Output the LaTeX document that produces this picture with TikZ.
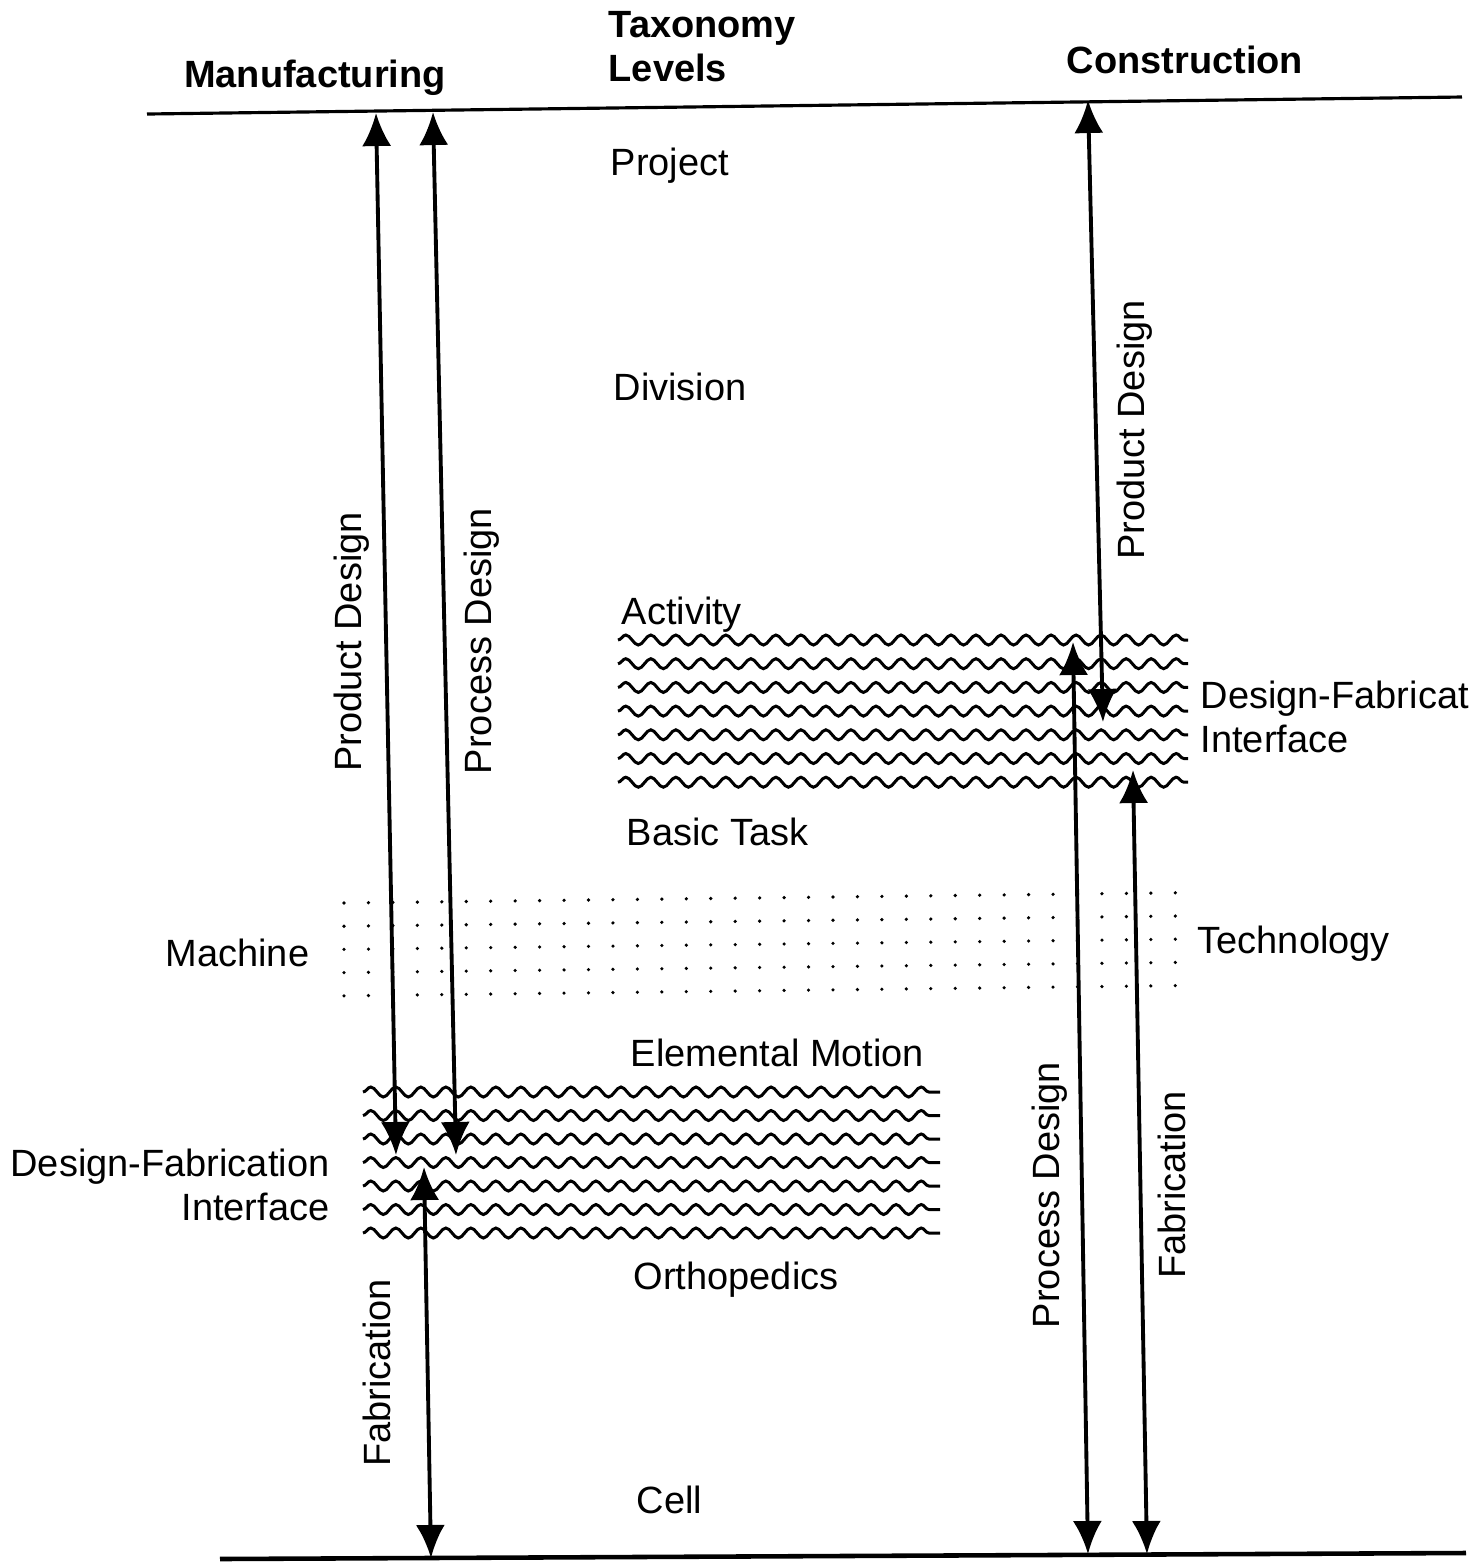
\documentclass[tikz,border=0pt]{standalone}
\usepackage{fontspec}
\setsansfont{Liberation Sans}
\usetikzlibrary{arrows.meta,positioning,decorations.pathmorphing}
\tikzset{
  font=\sffamily\fontsize{10.8}{12.5}\selectfont,
  head/.style={font=\sffamily\bfseries\fontsize{10.8}{12.5}\selectfont, inner sep=0pt},
  lvl/.style={anchor=base west, inner sep=0pt},
  vlbl/.style={rotate=90, inner sep=0pt},
  flow/.style={{Latex[length=3.3mm,width=2.9mm]}-{Latex[length=3.3mm,width=2.9mm]}, line width=1.1pt},
  rule/.style={line width=0.9pt},
  wave/.style={decorate, decoration={snake, segment length=2.5mm, amplitude=0.5mm}, line width=0.85pt},
}

\begin{document}
\begin{tikzpicture}[x=0.01cm, y=-0.01cm]
\useasboundingbox (0,0) rectangle (1483,1562);
% headings and rules
\node[head, anchor=base] (man) at (315,87) {Manufacturing};
\node[head, anchor=north west, align=left] (tax) at (608,11) {Taxonomy\\Levels};
\node[head, anchor=base] (con) at (1185,73) {Construction};
\coordinate (topL) at (147,114); \coordinate (topR) at (1462,97);
\coordinate (botL) at (220,1559); \coordinate (botR) at (1466,1553);
\draw[rule] (topL) -- (topR);
\draw[rule, line width=1.3pt] (botL) -- (botR);

% taxonomy levels
\node[lvl] (project) at (610,175) {Project};
\node[lvl] (division) at (613,400) {Division};
\node[lvl] (activity) at (621,624) {Activity};
\node[lvl] (basic) at (626,845) {Basic Task};
\node[lvl] (elem) at (630,1066) {Elemental Motion};
\node[lvl] (ortho) at (633,1289) {Orthopedics};
\node[lvl] (cell) at (636,1513) {Cell};

% technology band
\foreach \i in {0,...,34}
  \foreach \j in {0,...,4}
    \fill ({344+24.45*\i},{903+23.2*\j-0.3*\i}) circle (0.18mm);
\node[lvl] (machine) at (165,966) {Machine};
\node[lvl] (techno) at (1197,953) {Technology};

% design-fabrication interfaces
\foreach \j in {0,...,6} {
  \draw[wave] (618,{640+23.7*\j}) -- (1188,{640+23.7*\j});
  \draw[wave] (363,{1092+23.5*\j}) -- (940,{1092+23.5*\j});
}
\node[anchor=north east, align=right, inner sep=0pt] (dfiL) at (330,1148) {Design-Fabrication\\Interface};
\node[anchor=north west, align=left, inner sep=0pt] (dfiR) at (1200,680) {Design-Fabricat\\Interface};

% manufacturing arrows
\coordinate (mpdT) at (376,113); \coordinate (mpdB) at (396,1155);
\coordinate (mpsT) at (433,112); \coordinate (mpsB) at (456,1155);
\coordinate (mfbT) at (424,1167); \coordinate (mfbB) at (431,1558);
\draw[flow] (mpdT) -- (mpdB);
\draw[flow] (mpsT) -- (mpsB);
\draw[flow] (mfbT) -- (mfbB);
\node[vlbl] (mpdL) at (352,642) {Product Design};
\node[vlbl] (mpsL) at (482,641) {Process Design};
\node[vlbl] (mfbL) at (377,1373) {Fabrication};

% construction arrows
\coordinate (cpdT) at (1088,100); \coordinate (cpdB) at (1103,722);
\coordinate (cpsT) at (1073,642); \coordinate (cpsB) at (1088,1554);
\coordinate (cfbT) at (1133,770); \coordinate (cfbB) at (1147,1554);
\draw[flow] (cpdT) -- (cpdB);
\draw[flow] (cpsT) -- (cpsB);
\draw[flow] (cfbT) -- (cfbB);
\node[vlbl] (cpdL) at (1135,430) {Product Design};
\node[vlbl] (cpsL) at (1050,1195) {Process Design};
\node[vlbl] (cfbL) at (1172,1185) {Fabrication};
\end{tikzpicture}
\end{document}
